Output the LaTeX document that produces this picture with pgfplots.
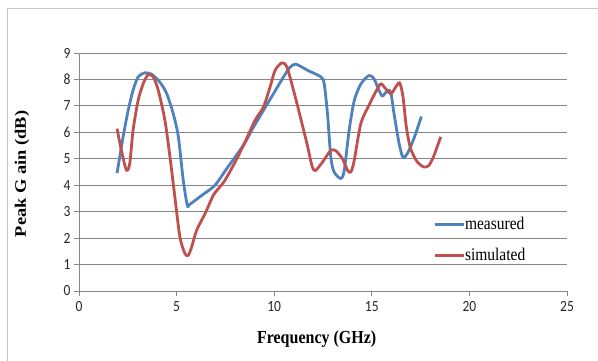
\documentclass[border=0pt]{standalone}
\usepackage{fontspec}
\setmainfont{Liberation Serif}
\newfontfamily\carlito{Carlito}
\usepackage{graphicx}
\usepackage{pgfplots}
\pgfplotsset{compat=1.18}
\definecolor{exblue}{HTML}{4F81BD}
\definecolor{exred}{HTML}{C0504D}
\definecolor{gridgray}{HTML}{868686}
\newcommand{\vs}[1]{\scalebox{1}[1.15]{#1}}
\begin{document}
\begin{tikzpicture}[x=1pt,y=1pt]
\useasboundingbox (0,0) rectangle (598,360);
\draw[gray!45, line width=0.8pt] (7,-5) rectangle (605,352);
\begin{axis}[
  at={(79pt,69pt)}, anchor=south west,
  scale only axis, width=488pt, height=238pt,
  xmin=0, xmax=25, ymin=0, ymax=9,
  xtick={0,5,...,25}, ytick={0,1,...,9},
  axis x line*=bottom, axis y line*=left,
  axis line style={gridgray, line width=0.8pt, -},
  ymajorgrids, major grid style={gridgray, line width=0.8pt},
  tick align=outside, major tick length=5pt,
  tick style={gridgray, line width=0.8pt},
  tick label style={font=\carlito\fontsize{13.5}{13.5}\selectfont, text=black!85},
  xticklabel={\vs{\pgfmathprintnumber[assume math mode=true]{\tick}}},
  yticklabel={\vs{\pgfmathprintnumber[assume math mode=true]{\tick}}},
  xticklabel style={yshift=-2pt},
  xlabel={\vs{\textbf{Frequency (GHz)}}},
  ylabel={\scalebox{1.15}[1]{\textbf{Peak G ain (dB)}}},
  label style={font=\fontsize{16}{16}\selectfont},
  xlabel style={at={(axis description cs:0.487,-0.2017)}, anchor=center},
  ylabel style={at={(axis description cs:-0.1168,0.492)}, anchor=center},
  legend style={draw=none, fill=none, at={(axis description cs:0.725,0.31)}, anchor=north west,
    font=\fontsize{15.5}{16}\selectfont, inner sep=0pt, row sep=17pt,
    nodes={inner sep=0pt, anchor=west}},
  legend cell align=left,
  legend image code/.code={\draw[#1, line width=3pt] (0pt,0pt) -- (29pt,0pt);},
  every axis plot/.append style={line width=2.8pt, smooth, tension=0.45, line join=round},
]
\addplot[exblue] coordinates {
(1.95,4.46) (2.26,5.83) (2.52,6.83) (2.77,7.59) (3.03,8.1) (3.37,8.25) (3.72,8.2)
(4.14,7.9) (4.49,7.47) (4.83,6.7) (5.09,5.83) (5.34,4.19) (5.55,3.24) (5.68,3.28)
(6.37,3.66) (6.97,4.0) (7.57,4.63) (8.42,5.51) (8.94,6.2) (9.45,6.83) (9.97,7.47)
(10.48,8.1) (10.82,8.47) (11.08,8.58) (11.34,8.5) (11.75,8.33) (12.39,8.1) (12.56,7.84)
(12.73,6.7) (12.9,5.07) (13.07,4.5) (13.42,4.25) (13.59,4.57) (13.84,6.08) (14.1,7.2)
(14.44,7.83) (14.86,8.15) (15.12,8.02) (15.37,7.58) (15.55,7.37) (15.8,7.58) (15.97,7.52)
(16.14,6.7) (16.4,5.57) (16.6,5.05) (16.82,5.2) (17.16,5.77) (17.54,6.6)
};
\addlegendentry{\vs{measured}}
\addplot[exred] coordinates {
(1.95,6.14) (2.17,5.32) (2.43,4.57) (2.6,4.82) (2.77,6.08) (3.03,7.21) (3.29,7.84)
(3.54,8.18) (3.8,8.1) (4.06,7.59) (4.4,6.46) (4.66,5.07) (4.91,3.56) (5.17,2.04)
(5.43,1.41) (5.6,1.35) (5.77,1.66) (6.03,2.3) (6.46,2.93) (6.88,3.62) (7.14,3.87)
(7.48,4.19) (8.0,4.88) (8.51,5.64) (9.02,6.46) (9.45,6.96) (9.79,7.72) (10.05,8.35)
(10.39,8.63) (10.65,8.47) (10.99,7.59) (11.34,6.58) (11.68,5.57) (11.93,4.75) (12.1,4.55)
(12.48,4.88) (12.9,5.32) (13.16,5.3) (13.5,5.0) (13.76,4.56) (13.93,4.5) (14.1,4.94)
(14.44,6.34) (14.86,7.03) (15.2,7.53) (15.46,7.84) (15.63,7.72) (15.97,7.46) (16.23,7.72)
(16.43,7.87) (16.6,7.34) (16.77,6.2) (16.99,5.38) (17.33,4.88) (17.67,4.69) (17.93,4.75)
(18.19,5.13) (18.53,5.83)
};
\addlegendentry{\vs{simulated}}
\end{axis}
\end{tikzpicture}
\end{document}
